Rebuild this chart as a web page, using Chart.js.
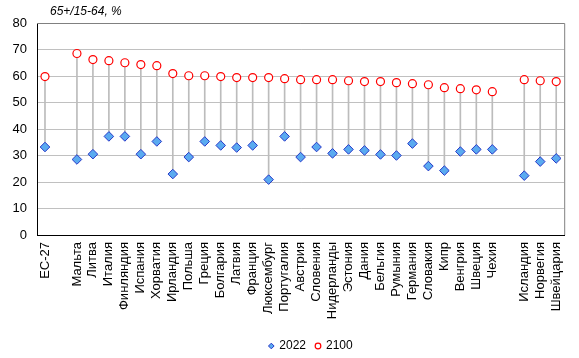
<!DOCTYPE html>
<html>
<head>
<meta charset="utf-8">
<script src="https://cdn.jsdelivr.net/npm/chart.js@4"></script>
<style>
  html, body { margin: 0; padding: 0; background: #fff; }
  #wrap { width: 579px; height: 358px; }
</style>
</head>
<body>
<div id="wrap"><canvas id="chart"></canvas></div>
<script>
// categories (empty strings are the gaps between groups)
const countries = ['ЕС-27', '', 'Мальта', 'Литва', 'Италия', 'Финляндия', 'Испания', 'Хорватия',
  'Ирландия', 'Польша', 'Греция', 'Болгария', 'Латвия', 'Франция', 'Люксембург', 'Португалия',
  'Австрия', 'Словения', 'Нидерланды', 'Эстония', 'Дания', 'Бельгия', 'Румыния', 'Германия',
  'Словакия', 'Кипр', 'Венгрия', 'Швеция', 'Чехия', '', 'Исландия', 'Норвегия', 'Швейцария'];

const values2022 = [33.2, null, 28.5, 30.5, 37.2, 37.2, 30.5, 35.3,
  23.0, 29.4, 35.3, 33.8, 33.0, 33.8, 20.9, 37.2,
  29.4, 33.2, 30.8, 32.3, 31.9, 30.4, 30.0, 34.5,
  26.0, 24.3, 31.5, 32.3, 32.3, null, 22.4, 27.7, 28.9];

const values2100 = [59.8, null, 68.5, 66.2, 65.8, 65.0, 64.3, 63.9,
  60.9, 60.1, 60.1, 59.8, 59.4, 59.4, 59.4, 59.0,
  58.6, 58.6, 58.6, 58.2, 57.9, 57.9, 57.5, 57.1,
  56.7, 55.6, 55.2, 54.8, 54.1, null, 58.6, 58.2, 57.9];

const yTicks = [0, 10, 20, 30, 40, 50, 60, 70, 80];
const unitLabel = '65+/15-64, %';

// stems from 2022 to 2100
const stems = values2022.map((v, i) => (v == null || values2100[i] == null) ? null : [v, values2100[i]]);

const FONT = 'Liberation Sans, Arial, sans-serif';

const framePlugin = {
  id: 'frame',
  afterLayout(chart) {
    // nudge the legend to where it sits in the original
    const lg = chart.legend;
    if (lg) {
      lg.left += 28; lg.right += 28;
      lg.top += 7; lg.bottom += 7;
    }
  },
  afterDraw(chart) {
    const { ctx, chartArea: a } = chart;
    ctx.save();
    ctx.strokeStyle = '#808080';
    ctx.lineWidth = 1;
    ctx.beginPath();
    ctx.moveTo(a.left, a.top + 0.5);
    ctx.lineTo(a.right + 0.5, a.top + 0.5);
    ctx.lineTo(a.right + 0.5, a.bottom);
    ctx.stroke();
    // unit label above the plot
    ctx.fillStyle = '#000';
    ctx.font = 'italic 12px ' + FONT;
    ctx.textBaseline = 'middle';
    ctx.fillText(unitLabel, 50, 12);
    ctx.restore();
  }
};

new Chart(document.getElementById('chart').getContext('2d'), {
  type: 'bar',
  data: {
    labels: countries,
    datasets: [
      {
        type: 'line',
        label: '2022',
        data: values2022,
        showLine: false,
        pointStyle: 'rectRot',
        pointRadius: 4.8,
        pointBackgroundColor: '#5aaaf0',
        pointBorderColor: '#2638c8',
        pointBorderWidth: 1,
        order: 1
      },
      {
        type: 'line',
        label: '2100',
        data: values2100,
        showLine: false,
        pointStyle: 'circle',
        pointRadius: 4,
        pointBackgroundColor: '#ffffff',
        pointBorderColor: '#ff0000',
        pointBorderWidth: 1.2,
        order: 2
      },
      {
        label: 'stem',
        data: stems,
        backgroundColor: '#bcbcbc',
        barThickness: 1,
        order: 10
      }
    ]
  },
  options: {
    responsive: true,
    maintainAspectRatio: false,
    animation: false,
    layout: { padding: { left: 0, right: 13, top: 23, bottom: 3 } },
    plugins: {
      tooltip: { enabled: false },
      legend: {
        position: 'bottom',
        labels: {
          filter: item => item.text !== 'stem',
          usePointStyle: true,
          boxWidth: 4,
          boxHeight: 4,
          padding: 10,
          color: '#000',
          font: { family: FONT, size: 12 }
        }
      }
    },
    scales: {
      x: {
        offset: true,
        grid: { display: false, drawTicks: false },
        border: { color: '#000', width: 1 },
        ticks: {
          autoSkip: false,
          maxRotation: 90,
          minRotation: 90,
          padding: 7,
          color: '#000',
          font: { family: FONT, size: 13 }
        },
        afterFit(scale) { scale.height = 88; }
      },
      y: {
        min: 0,
        max: 80,
        afterBuildTicks(scale) { scale.ticks = yTicks.map(v => ({ value: v })); },
        grid: { color: '#c0c0c0', drawTicks: false },
        border: { color: '#000', width: 1 },
        ticks: {
          padding: 10,
          color: '#000',
          font: { family: FONT, size: 13 }
        },
        afterFit(scale) { scale.width = 37; }
      }
    }
  },
  plugins: [framePlugin]
});
</script>
</body>
</html>
